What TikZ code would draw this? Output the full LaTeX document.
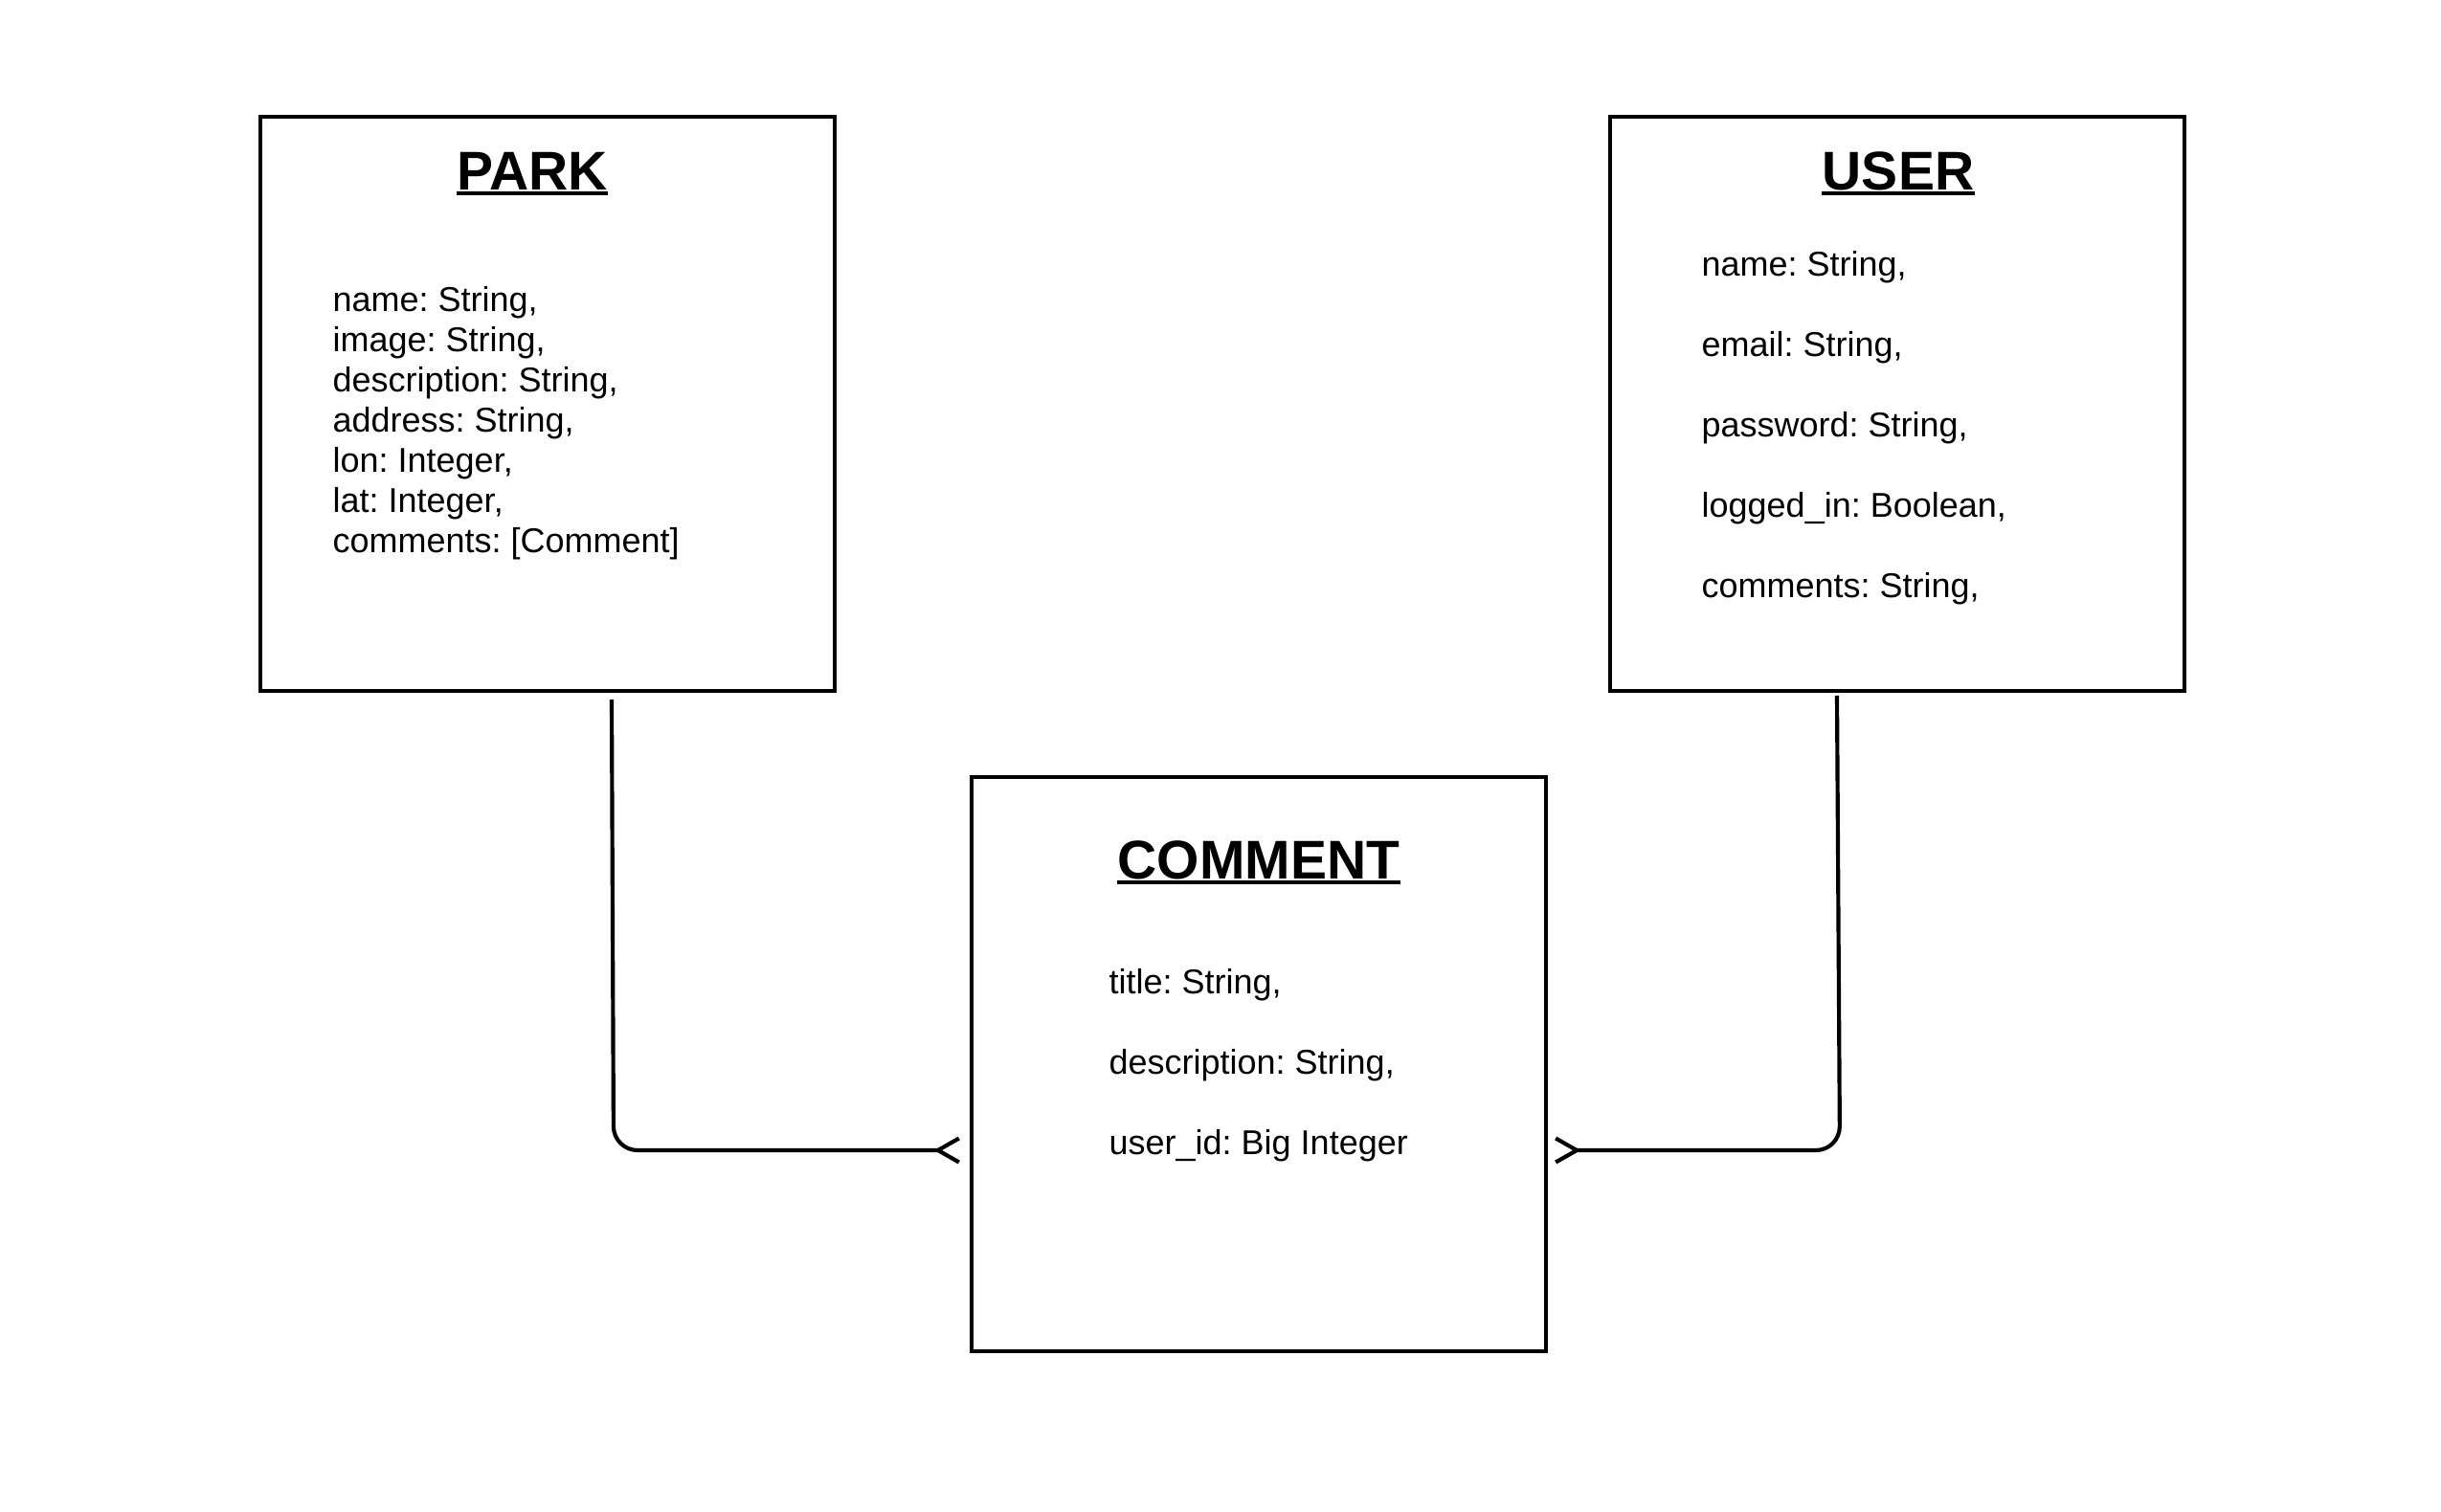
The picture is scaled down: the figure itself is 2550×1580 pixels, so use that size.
\documentclass[tikz,border=0pt]{standalone}
\usepackage{fontspec}
\setmainfont{Liberation Sans}
\usetikzlibrary{arrows.meta,calc}
\frenchspacing

\tikzset{
  entity/.style={draw, line width=1.25pt, minimum width=180pt, minimum height=180pt, inner sep=0pt},
  entity title/.style={anchor=base, inner sep=0pt, font=\fontsize{17.1}{20}\selectfont\bfseries},
  title rule/.style={line width=1.2pt},
  field/.style={anchor=base west, inner sep=0pt, font=\fontsize{10.8}{13}\selectfont},
  relation/.style={line width=1.25pt, rounded corners=7.5pt, -{Straight Barb[reversed,length=6.6pt,width=7.5pt]}},
}

\begin{document}
\begin{tikzpicture}[x=0.3pt,y=0.3pt,yscale=-1]
\useasboundingbox (0,0) rectangle (2550,1580);

% Entity boxes
\node[entity] (park) at (572,422) {};
\node[entity] (user) at (1982,422) {};
\node[entity] (comment) at (1315,1112) {};

% Titles
\node[entity title] (park-title) at (556,199) {PARK};
\node[entity title] (user-title) at (1983,199) {USER};
\node[entity title] (comment-title) at (1315,919) {COMMENT};
\foreach \t in {park-title,user-title,comment-title}
  \draw[title rule] ($(\t.base west)+(0,3.5)$) -- ($(\t.base east)+(0,3.5)$);

% Fields
\foreach \txt [count=\i from 0] in {{name: String,},{image: String,},{description: String,},{address: String,},{lon: Integer,},{lat: Integer,},{comments: [Comment]}}
  \node[field] (park-f\i) at (347,326+42*\i) {\txt};
\foreach \txt [count=\i from 0] in {{name: String,},{email: String,},{password: String,},{logged\_in: Boolean,},{comments: String,}}
  \node[field] (user-f\i) at (1777,289+84*\i) {\txt};
\foreach \txt [count=\i from 0] in {{title: String,},{description: String,},{user\_id: Big Integer}}
  \node[field] (comment-f\i) at (1158,1038+84*\i) {\txt};

% Relations
\coordinate (park-foot) at (639,731);
\coordinate (park-bend) at (641,1202);
\coordinate (comment-in) at ($(comment.west)+(-9,90)$);
\coordinate (user-foot) at (1919,727);
\coordinate (user-bend) at (1922,1202);
\coordinate (comment-out) at ($(comment.east)+(6,90)$);
\draw[relation] (park-foot) -- (park-bend) -- (comment-in);
\draw[relation] (user-foot) -- (user-bend) -- (comment-out);

\end{tikzpicture}
\end{document}
